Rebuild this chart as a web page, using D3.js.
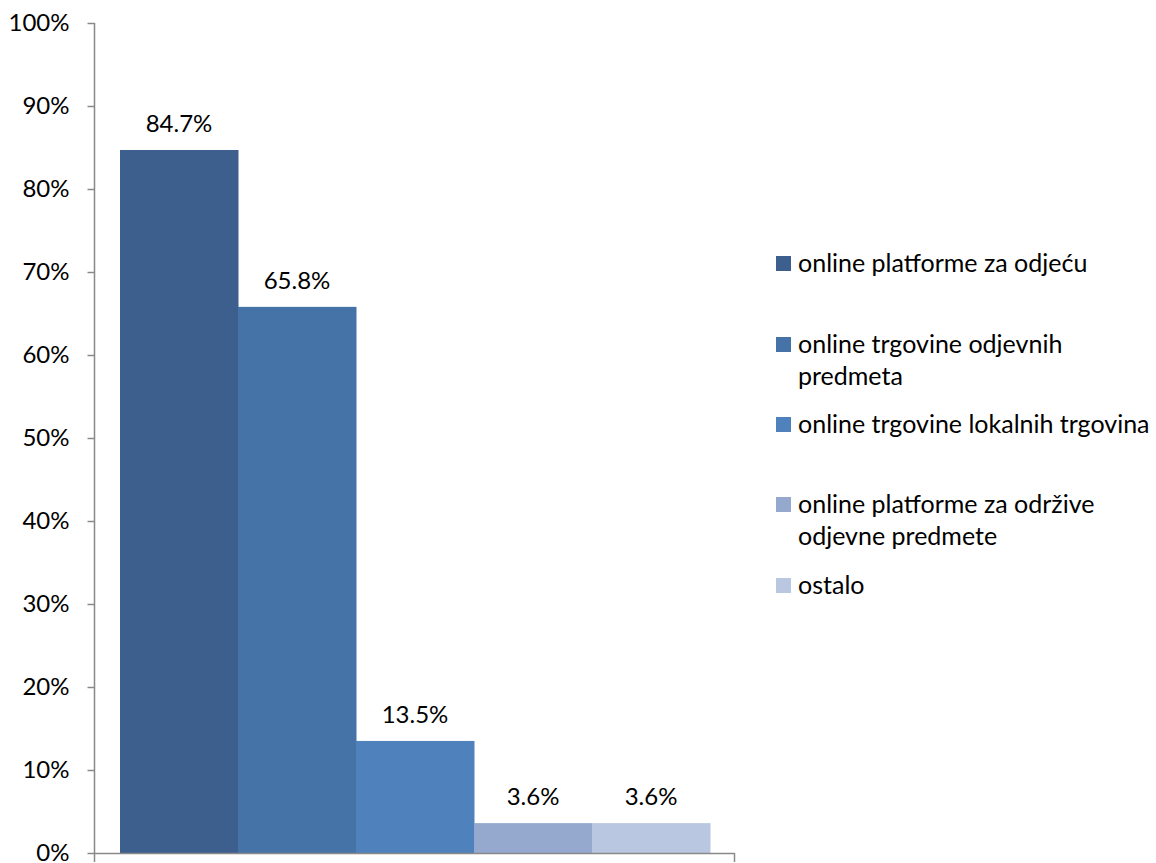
<!DOCTYPE html>
<html><head><meta charset="utf-8">
<script src="https://cdn.jsdelivr.net/npm/d3@7"></script>
<style>body{margin:0;background:#fff}svg{display:block}text{font-family:Lato,"Open Sans",sans-serif;fill:#000}</style>
</head><body>
<svg id="c" width="1156" height="863"></svg>
<script>
const series = ["online platforme za odjeću","online trgovine odjevnih predmeta","online trgovine lokalnih trgovina","online platforme za održive odjevne predmete","ostalo"];
const values = [84.7, 65.8, 13.5, 3.6, 3.6];
const colors = ["#3C5F8E","#4573A8","#4F81BD","#95A9CF","#B9C7E0"];
const legendLines = [["online platforme za odjeću"],["online trgovine odjevnih","predmeta"],["online trgovine lokalnih trgovina"],["online platforme za održive","odjevne predmete"],["ostalo"]];
const yTicks = [0,10,20,30,40,50,60,70,80,90,100];

const svg = d3.select("#c");
const pL = 94.5, pR = 734.5, pT = 23, pB = 853;
const y = d3.scaleLinear().domain([0,100]).range([pB, pT]);
const x = d3.scaleBand().domain(series).range([pL + 25.5, pR - 24.5]).padding(0);

svg.selectAll("rect.bar").data(values).join("rect")
  .attr("class","bar")
  .attr("x",(d,i)=>x(series[i]))
  .attr("width",x.bandwidth()+0.5)
  .attr("y",d=>y(d))
  .attr("height",d=>pB-y(d))
  .attr("fill",(d,i)=>colors[i]);

const yAxis = d3.axisLeft(y).tickValues(yTicks).tickSize(7).tickPadding(18).tickFormat(d=>d+"%");
const ga = svg.append("g").attr("transform",`translate(${pL},0)`).call(yAxis);
ga.select(".domain").attr("stroke","#898989").attr("stroke-width",1.5).attr("d",`M0,${pT}V${pB+9}`);
ga.selectAll(".tick line").attr("stroke","#898989").attr("stroke-width",1.5);
ga.selectAll(".tick text").attr("font-size",24).attr("font-family","Lato").attr("fill","#000");

// x axis
svg.append("line").attr("x1",pL).attr("x2",pR).attr("y1",pB+0.5).attr("y2",pB+0.5).attr("stroke","#898989").attr("stroke-width",1.5);
svg.append("line").attr("x1",pR).attr("x2",pR).attr("y1",pB).attr("y2",pB+9).attr("stroke","#898989").attr("stroke-width",1.5);

svg.selectAll("text.lbl").data(values).join("text")
  .attr("class","lbl")
  .attr("x",(d,i)=>x(series[i])+x.bandwidth()/2)
  .attr("y",d=>y(d)-18)
  .attr("text-anchor","middle")
  .attr("font-size",24)
  .text(d=>d.toFixed(1)+"%");

// legend
const legTop = [256, 337, 417, 497, 578];
const lg = svg.append("g");
legendLines.forEach((lines,i)=>{
  lg.append("rect").attr("x",776).attr("y",legTop[i]).attr("width",15).attr("height",15).attr("fill",colors[i]);
  const t = lg.append("text").attr("x",798).attr("y",legTop[i]+16).attr("font-size",25);
  lines.forEach((l,j)=>t.append("tspan").attr("x",798).attr("dy",j?32:0).text(l));
});
</script>
</body></html>
